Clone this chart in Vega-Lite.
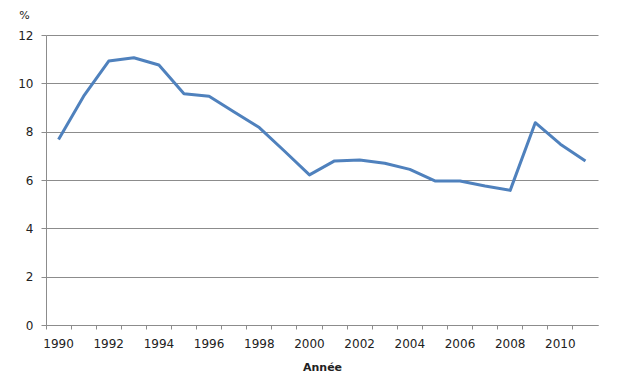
{
  "$schema": "https://vega.github.io/schema/vega-lite/v6.json",
  "autosize": {"type": "none"},
  "padding": {"left": 46, "top": 35, "right": 23, "bottom": 61},
  "width": 552,
  "height": 290,
  "background": "white",
  "config": {
    "view": {"stroke": null},
    "font": "DejaVu Sans",
    "axis": {
      "labelFont": "DejaVu Sans",
      "titleFont": "DejaVu Sans",
      "labelColor": "#222",
      "titleColor": "#222",
      "domainColor": "#8c8c8c",
      "tickColor": "#8c8c8c",
      "gridColor": "#8c8c8c",
      "gridOpacity": 1,
      "domainWidth": 1,
      "gridWidth": 1
    }
  },
  "data": {
    "values": [
      {"annee": 1990, "valeur": 7.68},
      {"annee": 1991, "valeur": 9.47},
      {"annee": 1992, "valeur": 10.92},
      {"annee": 1993, "valeur": 11.06},
      {"annee": 1994, "valeur": 10.76},
      {"annee": 1995, "valeur": 9.57},
      {"annee": 1996, "valeur": 9.47},
      {"annee": 1997, "valeur": 8.81},
      {"annee": 1998, "valeur": 8.17},
      {"annee": 1999, "valeur": 7.2},
      {"annee": 2000, "valeur": 6.21},
      {"annee": 2001, "valeur": 6.79},
      {"annee": 2002, "valeur": 6.83},
      {"annee": 2003, "valeur": 6.69},
      {"annee": 2004, "valeur": 6.44},
      {"annee": 2005, "valeur": 5.96},
      {"annee": 2006, "valeur": 5.96},
      {"annee": 2007, "valeur": 5.75},
      {"annee": 2008, "valeur": 5.57},
      {"annee": 2009, "valeur": 8.37},
      {"annee": 2010, "valeur": 7.48},
      {"annee": 2011, "valeur": 6.79}
    ]
  },
  "mark": {"type": "line", "color": "#4F81BD", "strokeWidth": 3, "strokeJoin": "round"},
  "encoding": {
    "x": {
      "field": "annee",
      "type": "ordinal",
      "sort": "ascending",
      "scale": {"type": "band", "paddingInner": 0, "paddingOuter": 0},
      "axis": {
        "title": "Année",
        "titleFontSize": 11,
        "titleFontWeight": "bold",
        "titlePadding": 12,
        "labelAngle": 0,
        "labelFontSize": 12,
        "labelPadding": 9,
        "tickSize": 4,
        "bandPosition": 0,
        "labelExpr": "datum.value % 2 == 0 ? datum.label : ''",
        "grid": false
      }
    },
    "y": {
      "field": "valeur",
      "type": "quantitative",
      "scale": {"domain": [0, 12], "nice": false},
      "axis": {
        "values": [0, 2, 4, 6, 8, 10, 12],
        "title": "%",
        "titleAngle": 0,
        "titleFontSize": 11,
        "titleFontWeight": "normal",
        "titleAlign": "center",
        "titleBaseline": "middle",
        "titleX": -22,
        "titleY": -20,
        "labelFontSize": 12,
        "labelPadding": 8,
        "tickSize": 5,
        "grid": true
      }
    }
  }
}
